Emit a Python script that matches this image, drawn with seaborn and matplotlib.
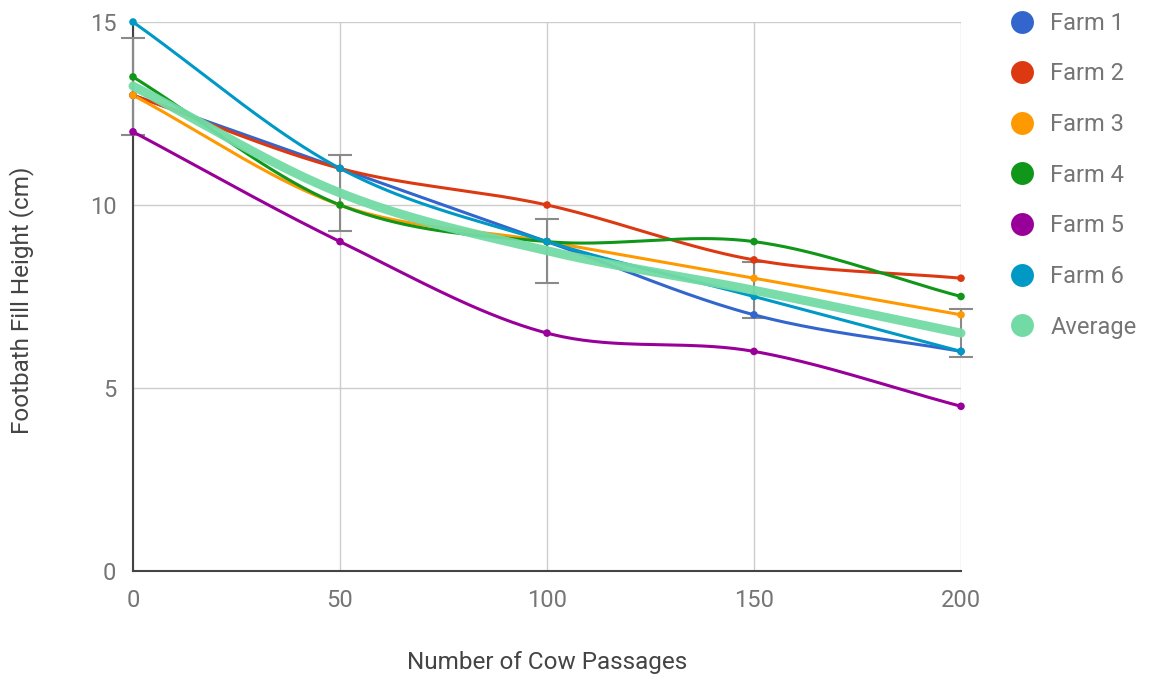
import numpy as np
import pandas as pd
import matplotlib
matplotlib.use("Agg")
import matplotlib.pyplot as plt
from matplotlib.lines import Line2D
import seaborn as sns

# ---- data ----
passages = [0, 50, 100, 150, 200]
farm1 = [13, 11, 9, 7, 6]
farm2 = [13, 11, 10, 8.5, 8]
farm3 = [13, 10, 9, 8, 7]
farm4 = [13.5, 10, 9, 9, 7.5]
farm5 = [12, 9, 6.5, 6, 4.5]
farm6 = [15, 11, 9, 7.5, 6]
average = [13.25, 10.33, 8.75, 7.67, 6.5]
error_pct = 0.10  # percentage error bars on the average series

series_names = ["Farm 1", "Farm 2", "Farm 3", "Farm 4", "Farm 5", "Farm 6", "Average"]
series_vals = [farm1, farm2, farm3, farm4, farm5, farm6, average]
colors = ["#3366cc", "#dc3912", "#ff9900", "#109618", "#990099", "#0099c6", "#72dba5"]

x_ticks = [0, 50, 100, 150, 200]
y_ticks = [0, 5, 10, 15]
x_title = "Number of Cow Passages"
y_title = "Footbath Fill Height (cm)"


def smooth(xs, ys, n=40):
    """Cubic Hermite (Catmull-Rom style) smoothing through the data points, for drawing."""
    xs = np.asarray(xs, float)
    ys = np.asarray(ys, float)
    m = np.zeros_like(ys)
    for i in range(len(xs)):
        if i == 0:
            m[i] = (ys[1] - ys[0]) / (xs[1] - xs[0])
        elif i == len(xs) - 1:
            m[i] = (ys[-1] - ys[-2]) / (xs[-1] - xs[-2])
        else:
            m[i] = (ys[i + 1] - ys[i - 1]) / (xs[i + 1] - xs[i - 1])
    ox, oy = [], []
    for i in range(len(xs) - 1):
        h = xs[i + 1] - xs[i]
        t = np.linspace(0, 1, n, endpoint=(i == len(xs) - 2))
        h00 = 2 * t**3 - 3 * t**2 + 1
        h10 = t**3 - 2 * t**2 + t
        h01 = -2 * t**3 + 3 * t**2
        h11 = t**3 - t**2
        oy.extend(h00 * ys[i] + h10 * h * m[i] + h01 * ys[i + 1] + h11 * h * m[i + 1])
        ox.extend(xs[i] + t * h)
    return np.array(ox), np.array(oy)


rows_pts, rows_curve = [], []
for name, vals in zip(series_names, series_vals):
    for x, y in zip(passages, vals):
        rows_pts.append({"x": x, "y": y, "series": name})
    sx, sy = smooth(passages, vals)
    for x, y in zip(sx, sy):
        rows_curve.append({"x": x, "y": y, "series": name})
pts = pd.DataFrame(rows_pts)
curve = pd.DataFrame(rows_curve)

sns.set_style("white")
plt.rcParams["font.family"] = ["Roboto", "DejaVu Sans"]

fig = plt.figure(figsize=(11.5, 6.8), dpi=100)
ax = fig.add_axes([133 / 1150, 1 - 571 / 680, (961 - 133) / 1150, (571 - 22) / 680])

# error bars on average (behind lines)
avg = np.array(average)
ax.errorbar(passages, avg, yerr=avg * error_pct, fmt="none", ecolor="#8a8a8a",
            elinewidth=1.5, capsize=8.5, capthick=1.5, zorder=2, clip_on=False)

palette = dict(zip(series_names, colors))
farm_names = series_names[:-1]
sns.lineplot(data=curve[curve.series.isin(farm_names)], x="x", y="y", hue="series",
             palette=palette, hue_order=farm_names, estimator=None, sort=False,
             linewidth=2.2, legend=False, ax=ax, zorder=3)
sns.scatterplot(data=pts[pts.series.isin(farm_names)], x="x", y="y", hue="series",
                palette=palette, hue_order=farm_names, s=30, linewidth=0,
                legend=False, ax=ax, zorder=4, clip_on=False)
sns.lineplot(data=curve[curve.series == "Average"], x="x", y="y", color=colors[-1],
             estimator=None, sort=False, linewidth=6.5, legend=False, ax=ax, zorder=5,
             alpha=0.95)
for ln in ax.lines:
    ln.set_clip_on(False)
    ln.set_solid_capstyle("round")

ax.set_xlim(0, 200)
ax.set_ylim(0, 15)
ax.set_xticks(x_ticks)
ax.set_yticks(y_ticks)
ax.set_xticklabels([str(v) for v in x_ticks])
ax.set_yticklabels([str(v) for v in y_ticks])
ax.grid(True, color="#cccccc", linewidth=1)
ax.set_axisbelow(True)
for s in ["top", "right"]:
    ax.spines[s].set_visible(False)
for s in ["left", "bottom"]:
    ax.spines[s].set_color("#444444")
    ax.spines[s].set_linewidth(1.5)
    ax.spines[s].set_zorder(1)
ax.tick_params(axis="both", length=0, labelsize=17, labelcolor="#757575")
ax.tick_params(axis="x", pad=13)
ax.tick_params(axis="y", pad=12)

ax.set_xlabel(x_title, fontsize=17.5, color="#444444")
ax.set_ylabel(y_title, fontsize=17.5, color="#444444")
ax.xaxis.set_label_coords(0.5, (571 - 663) / 549)
ax.xaxis.label.set_va("center")
ax.yaxis.set_label_coords((22 - 133) / 828, (571 - 300) / 549)
ax.yaxis.label.set_va("center")

handles = [Line2D([0], [0], marker="o", linestyle="none", markersize=16.5,
                  markerfacecolor=c, markeredgewidth=0) for c in colors]
leg = fig.legend(handles, series_names, loc="upper left",
                 bbox_to_anchor=(996 / 1150, 1 - 0 / 680), frameon=False,
                 fontsize=17, labelspacing=1.17, handletextpad=0.6,
                 borderpad=0, handlelength=1.2)
for t in leg.get_texts():
    t.set_color("#757575")

fig.savefig("out.png", dpi=100, facecolor="white")
